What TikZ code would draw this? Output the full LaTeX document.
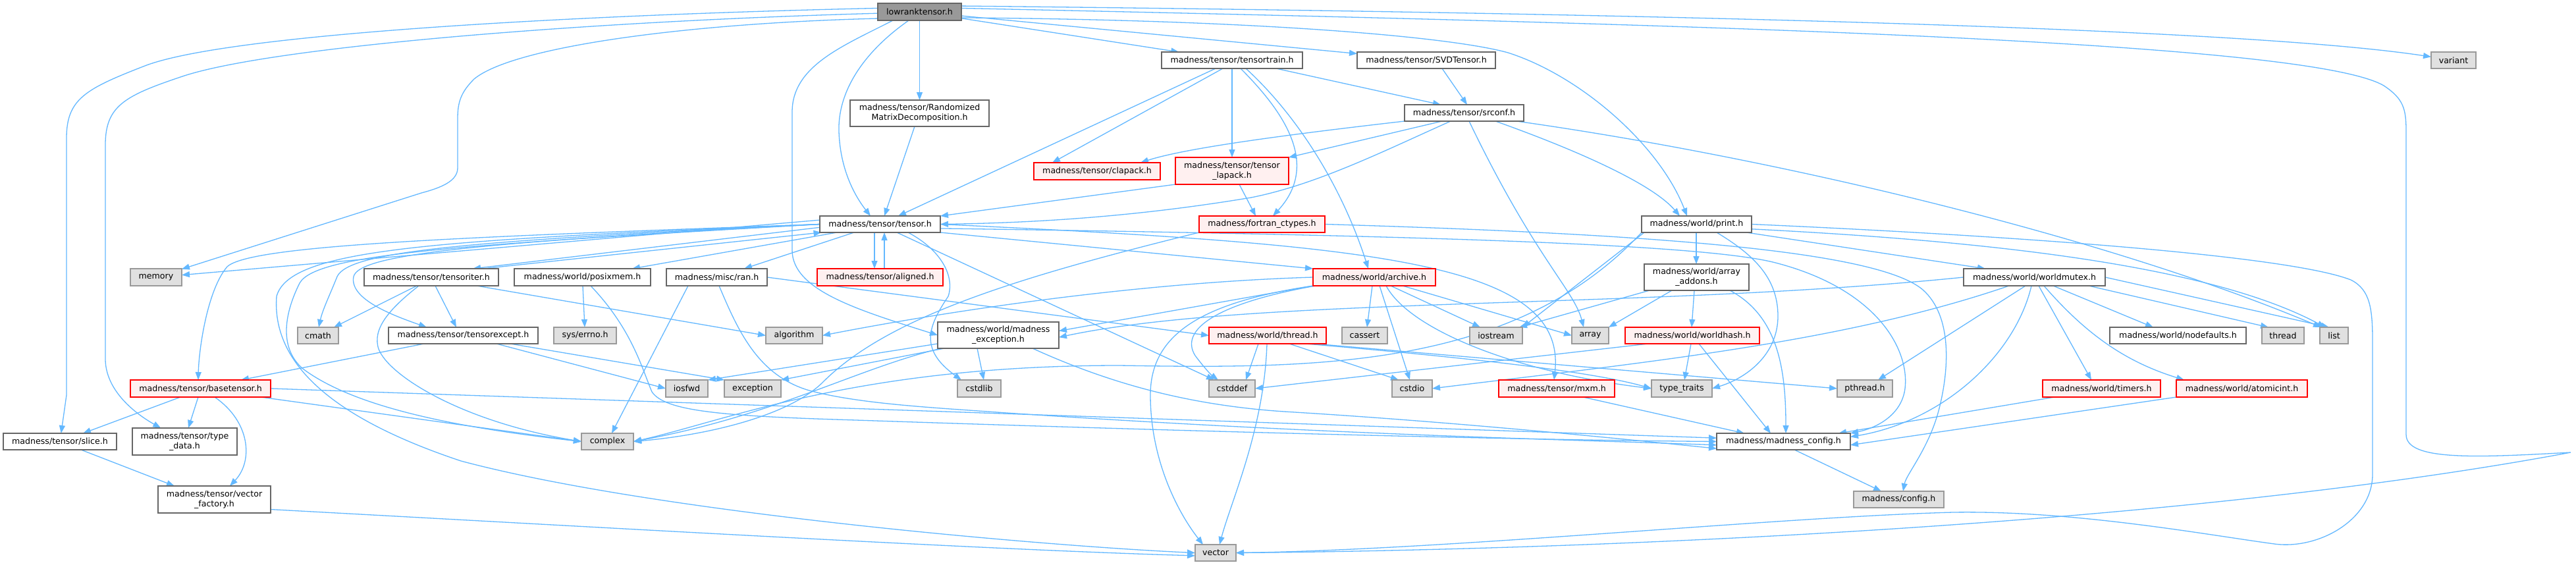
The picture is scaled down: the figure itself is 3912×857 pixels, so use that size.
\documentclass[tikz,border=0pt]{standalone}
\usepackage{fontspec}
\setmainfont{DejaVu Sans}
\usetikzlibrary{arrows.meta,backgrounds}
\definecolor{edgeblue}{HTML}{63B8FF}
\definecolor{bwhite}{HTML}{666666}
\definecolor{bgray}{HTML}{999999}
\definecolor{fgray}{HTML}{E0E0E0}
\definecolor{fred}{HTML}{FFF0F0}
\definecolor{bred}{HTML}{FF0000}
\definecolor{ftop}{HTML}{999999}
\begin{document}
\begin{tikzpicture}[x=1pt,y=-1pt,
  nb/.style={rectangle, draw, inner sep=0pt, outer sep=0pt, anchor=north west,
    line width=1.3pt, align=center, font=\fontsize{12.6}{15}\selectfont, minimum height=25pt},
  wbox/.style={nb, draw=bwhite, fill=white},
  gbox/.style={nb, draw=bgray, fill=fgray},
  rbox/.style={nb, draw=bred, fill=fred},
  topbox/.style={nb, draw=bwhite, fill=ftop},
  dep/.style={draw=edgeblue, line width=1.3pt, -{Triangle[length=12pt,width=9pt]}},
]
\useasboundingbox (0,0) rectangle (3912,857);
% ---------------- nodes
\node[topbox, minimum width=127pt, minimum height=26pt] (lowrank) at (1333,5) {lowranktensor.h};
\node[wbox, minimum width=214pt] (tensortrain) at (1764,79) {madness/tensor/tensortrain.h};
\node[wbox, minimum width=210pt] (SVDTensor) at (2061,79) {madness/tensor/SVDTensor.h};
\node[gbox, minimum width=68pt] (variant) at (3692,79) {variant};
\node[wbox, minimum width=211pt, minimum height=40pt] (Randomized) at (1291,152) {madness/tensor/Randomized\\MatrixDecomposition.h};
\node[wbox, minimum width=181pt] (srconf) at (2133,159) {madness/tensor/srconf.h};
\node[rbox, minimum width=192pt, minimum height=26pt] (clapack) at (1570,247) {madness/tensor/clapack.h};
\node[rbox, minimum width=172pt, minimum height=41pt] (tlapack) at (1785,239) {madness/tensor/tensor\\\_lapack.h};
\node[wbox, minimum width=183pt] (tensor) at (1245,328) {madness/tensor/tensor.h};
\node[rbox, minimum width=191pt] (fortran) at (1821,328) {madness/fortran\_ctypes.h};
\node[wbox, minimum width=167pt] (print) at (2493,328) {madness/world/print.h};
\node[gbox, minimum width=78pt, minimum height=26pt] (memory) at (198,408) {memory};
\node[wbox, minimum width=204pt, minimum height=26pt] (tensoriter) at (553,408) {madness/tensor/tensoriter.h};
\node[wbox, minimum width=207pt, minimum height=26pt] (posixmem) at (781,408) {madness/world/posixmem.h};
\node[wbox, minimum width=153pt, minimum height=26pt] (ran) at (1012,408) {madness/misc/ran.h};
\node[rbox, minimum width=191pt, minimum height=26pt] (aligned) at (1241,408) {madness/tensor/aligned.h};
\node[rbox, minimum width=186pt, minimum height=26pt] (archive) at (1994,408) {madness/world/archive.h};
\node[wbox, minimum width=159pt, minimum height=40pt] (arrayadd) at (2497,401) {madness/world/array\\\_addons.h};
\node[wbox, minimum width=215pt, minimum height=26pt] (worldmutex) at (2982,408) {madness/world/worldmutex.h};
\node[gbox, minimum width=62pt] (cmath) at (452,497) {cmath};
\node[wbox, minimum width=227pt] (tensorexcept) at (590,497) {madness/tensor/tensorexcept.h};
\node[gbox, minimum width=95pt] (syserrno) at (841,497) {sys/errno.h};
\node[gbox, minimum width=86pt] (algorithm) at (1163,497) {algorithm};
\node[wbox, minimum width=184pt, minimum height=40pt] (madexc) at (1424,489) {madness/world/madness\\\_exception.h};
\node[rbox, minimum width=178pt] (threadh) at (1836,497) {madness/world/thread.h};
\node[gbox, minimum width=69pt] (cassert) at (2038,497) {cassert};
\node[gbox, minimum width=80pt] (iostream) at (2232,497) {iostream};
\node[gbox, minimum width=56pt] (array) at (2387,497) {array};
\node[rbox, minimum width=204pt] (worldhash) at (2468,497) {madness/world/worldhash.h};
\node[wbox, minimum width=207pt] (nodefaults) at (3204,497) {madness/world/nodefaults.h};
\node[gbox, minimum width=64pt] (thread) at (3435,497) {thread};
\node[gbox, minimum width=43pt] (list) at (3523,497) {list};
\node[rbox, minimum width=213pt, minimum height=26pt] (basetensor) at (198,577) {madness/tensor/basetensor.h};
\node[gbox, minimum width=64pt, minimum height=26pt] (iosfwd) at (1011,577) {iosfwd};
\node[gbox, minimum width=86pt, minimum height=26pt] (exception) at (1100,577) {exception};
\node[gbox, minimum width=66pt, minimum height=26pt] (cstdlib) at (1454,577) {cstdlib};
\node[gbox, minimum width=70pt, minimum height=26pt] (cstddef) at (1836,577) {cstddef};
\node[gbox, minimum width=61pt, minimum height=26pt] (cstdio) at (2114,577) {cstdio};
\node[rbox, minimum width=176pt, minimum height=26pt] (mxm) at (2276,577) {madness/tensor/mxm.h};
\node[gbox, minimum width=92pt, minimum height=26pt] (typetraits) at (2508,577) {type\_traits};
\node[gbox, minimum width=84pt, minimum height=26pt] (pthread) at (2790,577) {pthread.h};
\node[rbox, minimum width=179pt, minimum height=26pt] (timers) at (3102,577) {madness/world/timers.h};
\node[rbox, minimum width=199pt, minimum height=26pt] (atomicint) at (3305,577) {madness/world/atomicint.h};
\node[wbox, minimum width=172pt] (slice) at (5,658) {madness/tensor/slice.h};
\node[wbox, minimum width=159pt, minimum height=41pt] (typedata) at (201,650) {madness/tensor/type\\\_data.h};
\node[gbox, minimum width=79pt] (complex) at (883,658) {complex};
\node[wbox, minimum width=203pt] (madconfig) at (2607,658) {madness/madness\_config.h};
\node[wbox, minimum width=171pt, minimum height=41pt] (vfactory) at (240,738) {madness/tensor/vector\\\_factory.h};
\node[gbox, minimum width=137pt] (config) at (2815,746) {madness/config.h};
\node[gbox, minimum width=62pt] (vector) at (1815,827) {vector};
% ---------------- edges
\begin{pgfonlayer}{background}
\fill[white] (0,0) rectangle (3912,857);
% lowranktensor.h
\draw[dep] (lowrank) -- (tensortrain);
\draw[dep] (lowrank) -- (SVDTensor);
\draw[dep] (lowrank) -- (Randomized);
\draw[dep] (lowrank.8) .. controls (2500,20) and (3400,42) .. (variant);
\draw[dep] ([xshift=47pt]lowrank.south west) .. controls (1310,80) and (1272,140) .. (1274,200) .. controls (1276,260) and (1300,300) .. ([xshift=77pt]tensor.north west);
\draw[dep] ([xshift=23pt]lowrank.south west) .. controls (1280,70) and (1203,100) .. (1203,170) -- (1203,380) .. controls (1203,440) and (1300,470) .. (madexc.west);
\draw[dep] (lowrank.-8) .. controls (1900,30) and (2200,55) .. (2290,80) .. controls (2400,115) and (2520,220) .. ([xshift=69pt]print.north west);
\draw[dep] (lowrank.175) .. controls (900,22) and (350,50) .. (220,100) .. controls (130,135) and (101,150) .. (101,210) -- (101,600) -- (slice);
\draw[dep] (lowrank.182) .. controls (900,32) and (420,70) .. (280,115) .. controls (190,145) and (160,160) .. (160,220) -- (160,545) .. controls (160,590) and (200,625) .. (typedata);
\draw[dep] (lowrank.189) .. controls (1050,35) and (780,70) .. (720,120) .. controls (700,140) and (695,155) .. (695,180) -- (695,255) .. controls (695,275) and (670,285) .. (640,293) -- (memory);
\draw[dep] (lowrank.5) .. controls (2500,35) and (3500,60) .. (3620,130) .. controls (3650,150) and (3654,165) .. (3654,200) -- (3654,660) .. controls (3654,700) and (3760,695) .. (3904,687) .. controls (3300,800) and (2400,835) .. (vector.east);
% tensortrain, SVD, Randomized
\draw[dep] ([xshift=82pt]tensortrain.south west) -- ([xshift=119pt]tensor.north west);
\draw[dep] ([xshift=93pt]tensortrain.south west) -- ([xshift=28pt]clapack.north west);
\draw[dep] ([xshift=107pt]tensortrain.south west) -- ([xshift=86pt]tlapack.north west);
\draw[dep] ([xshift=120pt]tensortrain.south west) .. controls (1950,170) and (2005,250) .. ([xshift=112pt]fortran.north west);
\draw[dep] ([xshift=128pt]tensortrain.south west) .. controls (1975,180) and (2040,290) .. ([xshift=84pt]archive.north west);
\draw[dep] ([xshift=-40pt]tensortrain.south east) -- ([xshift=55pt]srconf.north west);
\draw[dep] ([xshift=129pt]SVDTensor.south west) -- ([xshift=95pt]srconf.north west);
\draw[dep] ([xshift=98pt]Randomized.south west) -- ([xshift=98pt]tensor.north west);
% srconf
\draw[dep] (srconf.south west) .. controls (1950,205) and (1800,225) .. ([xshift=162pt]clapack.north west);
\draw[dep] ([xshift=57pt]srconf.south west) -- (tlapack.north east);
\draw[dep] ([xshift=70pt]srconf.south west) .. controls (2100,230) and (2000,280) .. (1900,300) .. controls (1750,325) and (1600,338) .. (tensor.east);
\draw[dep] ([xshift=98pt]srconf.south west) .. controls (2330,390) and (2390,440) .. ([xshift=18pt]array.north west);
\draw[dep] ([xshift=138pt]srconf.south west) .. controls (2400,230) and (2510,280) .. ([xshift=58pt]print.north west);
\draw[dep] ([xshift=170pt]srconf.south west) .. controls (2700,240) and (3200,360) .. ([xshift=2pt]list.north west);
% tensor_lapack, fortran
\draw[dep] (tlapack.south west) -- (tensor.north east);
\draw[dep] ([xshift=97pt]tlapack.south west) -- ([xshift=86pt]fortran.north west);
\draw[dep] (fortran.south west) .. controls (1550,420) and (1350,480) .. (1250,580) .. controls (1200,630) and (1080,660) .. (complex.east);
\draw[dep] (fortran.east) .. controls (2500,355) and (2850,380) .. (2920,440) .. controls (2965,480) and (2960,560) .. (2945,620) .. controls (2930,680) and (2895,720) .. ([xshift=75pt]config.north west);
% tensor.h
\draw[dep] (tensor.176) -- (memory);
\draw[dep] (tensor.183) -- ([xshift=165pt]tensoriter.north west);
\draw[dep] ([xshift=180pt]tensoriter.north west) -- (tensor.188);
\draw[dep] ([xshift=26pt]tensor.south west) -- ([xshift=179pt]posixmem.north west);
\draw[dep] ([xshift=52pt]tensor.south west) -- ([xshift=118pt]ran.north west);
\draw[dep] ([xshift=83pt]tensor.south west) -- ([xshift=87pt]aligned.north west);
\draw[dep] ([xshift=102pt]aligned.north west) -- ([xshift=98pt]tensor.south west);
\draw[dep] ([xshift=117pt]tensor.south west) -- ([xshift=8pt]cstddef.north west);
\draw[dep] ([xshift=134pt]tensor.south west) .. controls (1430,380) and (1450,420) .. (1440,450) .. controls (1410,495) and (1395,530) .. ([xshift=6pt]cstdlib.north west);
\draw[dep] (tensor.south east) -- (archive.north west);
\draw[dep] (tensor.east) .. controls (2100,372) and (2380,400) .. ([xshift=84pt]mxm.north west);
\draw[dep] (tensor.-4) .. controls (2200,358) and (2600,372) .. (2700,400) .. controls (2850,440) and (2900,530) .. (2893,590) .. controls (2888,630) and (2850,650) .. (madconfig.north east);
\draw[dep] (tensor.west) .. controls (700,360) and (380,372) .. (345,405) .. controls (315,440) and (302,530) .. ([xshift=103pt]basetensor.north west);
\draw[dep] (tensor.west) .. controls (700,366) and (530,382) .. (512,420) .. controls (500,450) and (490,470) .. ([xshift=32pt]cmath.north west);
\draw[dep] (tensor.west) .. controls (700,369) and (545,388) .. (537,420) .. controls (530,455) and (600,480) .. ([xshift=58pt]tensorexcept.north west);
\draw[dep] (tensor.west) .. controls (700,372) and (480,385) .. (455,430) .. controls (430,480) and (425,530) .. (460,560) .. controls (540,620) and (700,650) .. (complex.west);
\draw[dep] (tensor.west) .. controls (650,365) and (440,378) .. (420,450) .. controls (412,560) and (520,640) .. (700,700) .. controls (1000,780) and (1600,830) .. (vector.west);
% tensoriter
\draw[dep] ([xshift=80pt]tensoriter.south west) -- ([xshift=55pt]cmath.north west);
\draw[dep] ([xshift=108pt]tensoriter.south west) -- ([xshift=103pt]tensorexcept.north west);
\draw[dep] ([xshift=171pt]tensoriter.south west) -- (algorithm.west);
\draw[dep] ([xshift=83pt]tensoriter.south west) .. controls (590,470) and (565,500) .. (575,530) .. controls (590,570) and (700,640) .. (complex.west);
% posixmem, ran
\draw[dep] ([xshift=104pt]posixmem.south west) -- ([xshift=47pt]syserrno.north west);
\draw[dep] ([xshift=116pt]posixmem.south west) .. controls (960,500) and (975,560) .. (990,595) .. controls (1010,625) and (1100,632) .. (1300,638) .. controls (1800,655) and (2300,668) .. (madconfig.180);
\draw[dep] ([xshift=33pt]ran.south west) -- (complex);
\draw[dep] (ran.east) -- (threadh.west);
\draw[dep] ([xshift=80pt]ran.south west) .. controls (1120,500) and (1150,570) .. (1229,593) .. controls (1300,612) and (1400,618) .. (1500,625) .. controls (2000,660) and (2400,668) .. (madconfig.183);
% tensorexcept
\draw[dep] ([xshift=54pt]tensorexcept.south west) -- ([xshift=168pt]basetensor.north west);
\draw[dep] ([xshift=164pt]tensorexcept.south west) -- (iosfwd.west);
\draw[dep] ([xshift=185pt]tensorexcept.south west) -- (exception.north west);
% basetensor, slice, vector_factory
\draw[dep] ([xshift=76pt]basetensor.south west) -- ([xshift=121pt]slice.north west);
\draw[dep] ([xshift=103pt]basetensor.south west) -- ([xshift=85pt]typedata.north west);
\draw[dep] ([xshift=128pt]basetensor.south west) .. controls (380,640) and (385,700) .. ([xshift=109pt]vfactory.north west);
\draw[dep] ([xshift=-15pt]basetensor.south east) -- (complex.west);
\draw[dep] (basetensor.east) -- (madconfig.177);
\draw[dep] ([xshift=118pt]slice.south west) -- ([xshift=25pt]vfactory.north west);
\draw[dep] (vfactory.-10) .. controls (900,800) and (1500,835) .. (vector.188);
% madness_exception
\draw[dep] ([xshift=60pt]madexc.south west) -- ([xshift=40pt]cstdlib.north west);
\draw[dep] (madexc.188) -- (iosfwd.north east);
\draw[dep] ([xshift=10pt]madexc.south west) -- (exception.north east);
\draw[dep] ([xshift=5pt]madexc.south west) .. controls (1300,560) and (1180,630) .. (complex.east);
\draw[dep] ([xshift=-40pt]madexc.south east) .. controls (1680,580) and (1800,615) .. (1950,625) .. controls (2200,640) and (2450,665) .. (madconfig.186);
% archive
\draw[dep] ([xshift=90pt]archive.south west) -- ([xshift=38pt]cassert.north west);
\draw[dep] ([xshift=101pt]archive.south west) -- ([xshift=27pt]cstdio.north west);
\draw[dep] ([xshift=118pt]archive.south west) -- ([xshift=16pt]iostream.north west);
\draw[dep] ([xshift=136pt]archive.south west) -- (array.west);
\draw[dep] ([xshift=111pt]archive.south west) .. controls (2140,500) and (2300,565) .. (typetraits.west);
\draw[dep] (archive.south west) .. controls (1820,460) and (1747,510) .. (1747,600) .. controls (1747,700) and (1790,780) .. ([xshift=12pt]vector.north west);
\draw[dep] ([xshift=4pt]archive.south west) .. controls (1850,460) and (1790,500) .. (1815,540) .. controls (1830,560) and (1840,570) .. ([xshift=14pt]cstddef.north west);
\draw[dep] (archive.south west) -- (madexc.4);
\draw[dep] (archive.west) .. controls (1700,430) and (1400,480) .. (algorithm.east);
% print
\draw[dep] ([xshift=83pt]print.south west) -- ([xshift=79pt]arrayadd.north west);
\draw[dep] ([xshift=-8pt]print.south east) -- ([xshift=33pt]worldmutex.north west);
\draw[dep] ([xshift=4pt]print.south west) -- (iostream.north east);
\draw[dep] ([xshift=114pt]print.south west) .. controls (2660,385) and (2700,420) .. (2700,480) .. controls (2700,540) and (2650,575) .. (typetraits.east);
\draw[dep] (print.-5) .. controls (3000,365) and (3350,400) .. ([xshift=8pt]list.north west);
\draw[dep] (print.east) .. controls (3100,360) and (3480,390) .. (3570,425) .. controls (3600,440) and (3603,470) .. (3603,520) -- (3603,720) .. controls (3603,790) and (3520,835) .. (3454,826) .. controls (3350,812) and (3150,775) .. (2966,778) .. controls (2700,785) and (2200,835) .. (vector.east);
\draw[dep] (print.south west) .. controls (2300,560) and (2000,560) .. (1700,555) .. controls (1300,555) and (1100,640) .. (complex.east);
% array_addons
\draw[dep] ([xshift=8pt]arrayadd.south west) -- ([xshift=-5pt]iostream.north east);
\draw[dep] ([xshift=42pt]arrayadd.south west) -- (array.north east);
\draw[dep] ([xshift=76pt]arrayadd.south west) -- ([xshift=101pt]worldhash.north west);
\draw[dep] ([xshift=130pt]arrayadd.south west) .. controls (2700,480) and (2712,560) .. ([xshift=105pt]madconfig.north west);
% worldhash
\draw[dep] ([xshift=35pt]worldhash.south west) -- (cstddef.east);
\draw[dep] ([xshift=100pt]worldhash.south west) -- ([xshift=50pt]typetraits.north west);
\draw[dep] ([xshift=112pt]worldhash.south west) -- ([xshift=82pt]madconfig.north west);
% thread.h
\draw[dep] ([xshift=75pt]threadh.south west) -- ([xshift=56pt]cstddef.north west);
\draw[dep] ([xshift=88pt]threadh.south west) .. controls (1920,650) and (1870,760) .. ([xshift=37pt]vector.north west);
\draw[dep] ([xshift=122pt]threadh.south west) -- ([xshift=10pt]cstdio.north west);
\draw[dep] ([xshift=147pt]threadh.south west) .. controls (2250,545) and (2420,565) .. (typetraits.west);
\draw[dep] ([xshift=160pt]threadh.south west) -- (pthread.west);
% worldmutex
\draw[dep] (worldmutex.west) .. controls (2500,470) and (1900,450) .. (madexc.-2);
\draw[dep] ([xshift=69pt]worldmutex.south west) .. controls (2800,520) and (2500,550) .. (cstdio.east);
\draw[dep] ([xshift=94pt]worldmutex.south west) -- ([xshift=62pt]pthread.north west);
\draw[dep] ([xshift=103pt]worldmutex.south west) .. controls (3060,540) and (2950,640) .. (madconfig.4);
\draw[dep] ([xshift=114pt]worldmutex.south west) -- ([xshift=74pt]timers.north west);
\draw[dep] ([xshift=122pt]worldmutex.south west) .. controls (3170,510) and (3230,550) .. ([xshift=12pt]atomicint.north west);
\draw[dep] ([xshift=136pt]worldmutex.south west) -- ([xshift=66pt]nodefaults.north west);
\draw[dep] ([xshift=-25pt]worldmutex.south east) -- ([xshift=10pt]thread.north west);
\draw[dep] (worldmutex.east) -- ([xshift=14pt]list.north west);
% others
\draw[dep] ([xshift=128pt]mxm.south west) -- ([xshift=42pt]madconfig.north west);
\draw[dep] ([xshift=18pt]timers.south west) -- ([xshift=-18pt]madconfig.north east);
\draw[dep] (atomicint.south west) -- (madconfig.-3);
\draw[dep] ([xshift=118pt]madconfig.south west) -- ([xshift=42pt]config.north west);
\end{pgfonlayer}
\end{tikzpicture}
\end{document}
